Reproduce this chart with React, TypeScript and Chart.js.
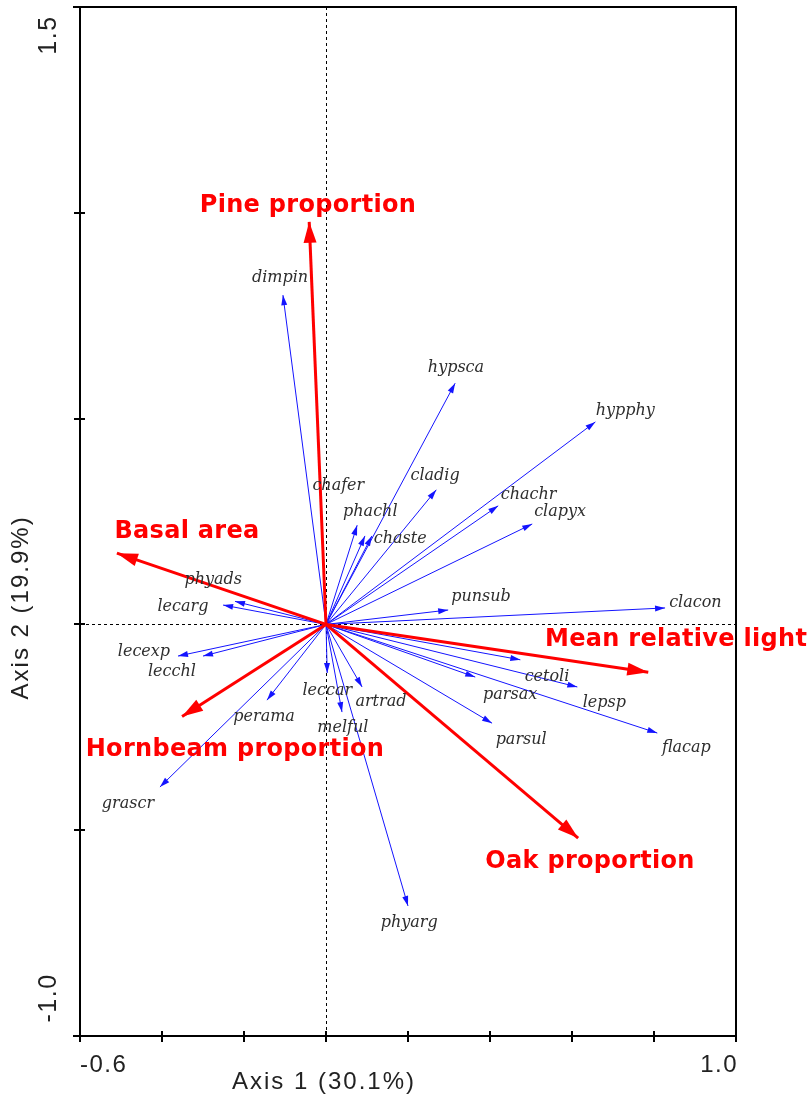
import React, { useEffect, useRef } from "react";
import { Chart, registerables } from "chart.js";

Chart.register(...registerables);

// Environmental variables (red arrows)
const envNames = ["Pine proportion", "Basal area", "Mean relative light", "Hornbeam proportion", "Oak proportion"];
const envX = [-0.041, -0.51, 0.786, -0.351, 0.615];
const envY = [0.978, 0.173, -0.116, -0.224, -0.519];
const envLabelX = [-0.044, -0.339, 0.854, -0.222, 0.644];
const envLabelY = [1.017, 0.226, -0.038, -0.305, -0.577];

// Species (blue arrows)
const speciesNames = [
  "dimpin", "hypsca", "hypphy", "cladig", "chafer", "phachl", "chachr", "clapyx", "chaste",
  "phyads", "lecarg", "punsub", "clacon", "lecexp", "lecchl", "leccar", "artrad", "perama",
  "melful", "cetoli", "parsax", "lepsp", "parsul", "flacap", "grascr", "phyarg",
];
const speciesX = [
  -0.105, 0.315, 0.657, 0.269, 0.095, 0.076, 0.42, 0.503, 0.112,
  -0.222, -0.251, 0.298, 0.827, -0.361, -0.3, 0.003, 0.088, -0.144,
  0.039, 0.474, 0.364, 0.613, 0.405, 0.808, -0.405, 0.2,
];
const speciesY = [
  0.8, 0.586, 0.492, 0.327, 0.215, 0.241, 0.288, 0.244, 0.215,
  0.056, 0.047, 0.035, 0.04, -0.077, -0.077, -0.118, -0.152, -0.184,
  -0.213, -0.086, -0.128, -0.152, -0.24, -0.264, -0.395, -0.684,
];
const speciesLabelX = [
  -0.112, 0.317, 0.730, 0.266, 0.03, 0.108, 0.494, 0.571, 0.181,
  -0.275, -0.349, 0.378, 0.901, -0.444, -0.376, 0.003, 0.134, -0.151,
  0.041, 0.539, 0.449, 0.679, 0.476, 0.879, -0.483, 0.203,
];
const speciesLabelY = [
  0.841, 0.623, 0.520, 0.360, 0.336, 0.273, 0.314, 0.273, 0.209,
  0.108, 0.042, 0.067, 0.052, -0.067, -0.116, -0.162, -0.189, -0.225,
  -0.252, -0.128, -0.171, -0.191, -0.281, -0.301, -0.435, -0.725,
];

const xTicks = [-0.6, -0.4, -0.2, 0, 0.2, 0.4, 0.6, 0.8, 1.0];
const yTicks = [-1.0, -0.5, 0, 0.5, 1.0, 1.5];
const xTickLabels = ["-0.6", "1.0"];
const yTickLabels = ["-1.0", "1.5"];
const xTitle = "Axis 1 (30.1%)";
const yTitle = "Axis 2 (19.9%)";

const RED = "#ff0000";
const BLUE = "#1414ff";

function drawHead(ctx: CanvasRenderingContext2D, x0: number, y0: number, x1: number, y1: number, len: number, w: number, color: string) {
  const a = Math.atan2(y1 - y0, x1 - x0);
  const c = Math.cos(a), s = Math.sin(a);
  ctx.fillStyle = color;
  ctx.beginPath();
  ctx.moveTo(x1, y1);
  ctx.lineTo(x1 - len * c + (w / 2) * s, y1 - len * s - (w / 2) * c);
  ctx.lineTo(x1 - len * c - (w / 2) * s, y1 - len * s + (w / 2) * c);
  ctx.closePath();
  ctx.fill();
}

const biplotPlugin = {
  id: "biplot",
  beforeDatasetsDraw(chart: any) {
    const ctx = chart.ctx as CanvasRenderingContext2D;
    const xs = chart.scales.x, ys = chart.scales.y;
    const a = chart.chartArea;
    ctx.save();
    ctx.strokeStyle = "#000";
    ctx.lineWidth = 1;
    ctx.setLineDash([3, 3]);
    const x0 = Math.round(xs.getPixelForValue(0)) + 0.5;
    const y0 = Math.round(ys.getPixelForValue(0)) + 0.5;
    ctx.beginPath();
    ctx.moveTo(x0, a.top);
    ctx.lineTo(x0, a.bottom);
    ctx.moveTo(a.left, y0);
    ctx.lineTo(a.right, y0);
    ctx.stroke();
    ctx.restore();
  },
  afterDatasetsDraw(chart: any) {
    const ctx = chart.ctx as CanvasRenderingContext2D;
    const xs = chart.scales.x, ys = chart.scales.y;
    const a = chart.chartArea;
    ctx.save();
    // arrowheads
    chart.data.datasets.forEach((ds: any, i: number) => {
      const meta = chart.getDatasetMeta(i);
      const p0 = meta.data[0], p1 = meta.data[1];
      if (!p0 || !p1) return;
      if (ds.kind === "env") drawHead(ctx, p0.x, p0.y, p1.x, p1.y, 21, 13, RED);
      else drawHead(ctx, p0.x, p0.y, p1.x, p1.y, 10, 6, BLUE);
    });
    // species labels
    ctx.fillStyle = "#2e2e2e";
    ctx.font = "italic 16px 'DejaVu Serif'";
    ctx.textAlign = "center";
    ctx.textBaseline = "middle";
    speciesNames.forEach((n, i) => {
      ctx.fillText(n, xs.getPixelForValue(speciesLabelX[i]), ys.getPixelForValue(speciesLabelY[i]));
    });
    // env labels
    ctx.fillStyle = RED;
    ctx.font = "bold 24px 'DejaVu Sans'";
    (ctx as any).letterSpacing = "0.3px";
    envNames.forEach((n, i) => {
      ctx.fillText(n, xs.getPixelForValue(envLabelX[i]), ys.getPixelForValue(envLabelY[i]));
    });
    (ctx as any).letterSpacing = "0px";

    // frame
    ctx.strokeStyle = "#000";
    ctx.lineWidth = 2;
    ctx.setLineDash([]);
    ctx.beginPath();
    ctx.moveTo(a.left - 7, a.top);
    ctx.lineTo(a.right + 1, a.top);
    ctx.moveTo(a.left - 7, a.bottom);
    ctx.lineTo(a.right + 1, a.bottom);
    ctx.moveTo(a.left, a.top);
    ctx.lineTo(a.left, a.bottom + 5);
    ctx.moveTo(a.right, a.top);
    ctx.lineTo(a.right, a.bottom + 5);
    ctx.stroke();
    // ticks
    ctx.lineWidth = 2;
    ctx.beginPath();
    xTicks.forEach((v) => {
      const px = Math.round(xs.getPixelForValue(v));
      ctx.moveTo(px, a.bottom - 5);
      ctx.lineTo(px, a.bottom + 6);
    });
    yTicks.forEach((v) => {
      const py = Math.round(ys.getPixelForValue(v));
      ctx.moveTo(a.left - 6, py);
      ctx.lineTo(a.left + 5, py);
    });
    ctx.stroke();

    // tick labels & titles
    ctx.fillStyle = "#222";
    ctx.font = "24px 'Liberation Sans'";
    (ctx as any).letterSpacing = "1.5px";
    ctx.textBaseline = "middle";
    ctx.textAlign = "left";
    ctx.fillText(xTickLabels[0], xs.getPixelForValue(xTicks[0]), a.bottom + 29);
    ctx.textAlign = "right";
    ctx.fillText(xTickLabels[1], xs.getPixelForValue(xTicks[xTicks.length - 1]) + 2, a.bottom + 29);
    // y tick labels rotated
    ctx.save();
    ctx.font = "25px 'Liberation Sans'";
    ctx.translate(49, ys.getPixelForValue(yTicks[0]) - 38);
    ctx.rotate(-Math.PI / 2);
    ctx.textAlign = "center";
    ctx.fillText(yTickLabels[0], 0, 0);
    ctx.restore();
    ctx.save();
    ctx.font = "25px 'Liberation Sans'";
    ctx.translate(49, ys.getPixelForValue(yTicks[yTicks.length - 1]) + 28);
    ctx.rotate(-Math.PI / 2);
    ctx.textAlign = "center";
    ctx.fillText(yTickLabels[1], 0, 0);
    ctx.restore();
    // titles
    (ctx as any).letterSpacing = "2px";
    ctx.textAlign = "center";
    ctx.fillText(xTitle, xs.getPixelForValue(0) - 2, a.bottom + 46);
    ctx.save();
    ctx.translate(21, ys.getPixelForValue(0) - 17);
    ctx.rotate(-Math.PI / 2);
    ctx.fillText(yTitle, 0, 0);
    ctx.restore();
    ctx.restore();
  },
};

export default function App() {
  const ref = useRef<HTMLCanvasElement | null>(null);
  useEffect(() => {
    if (!ref.current) return;
    const envSets = envNames.map((n, i) => ({
      label: n,
      kind: "env",
      data: [{ x: 0, y: 0 }, { x: envX[i], y: envY[i] }],
      showLine: true,
      borderColor: RED,
      borderWidth: 3,
      pointRadius: 0,
      clip: false,
    }));
    const spSets = speciesNames.map((n, i) => ({
      label: n,
      kind: "species",
      data: [{ x: 0, y: 0 }, { x: speciesX[i], y: speciesY[i] }],
      showLine: true,
      borderColor: BLUE,
      borderWidth: 1,
      pointRadius: 0,
      clip: false,
    }));
    const chart = new Chart(ref.current, {
      type: "scatter",
      data: { datasets: [...envSets, ...spSets] as any },
      options: {
        animation: false,
        responsive: false,
        devicePixelRatio: 1,
        layout: { padding: { left: 80, top: 7, right: 73, bottom: 66 } },
        plugins: { legend: { display: false }, tooltip: { enabled: false } },
        events: [],
        scales: {
          x: { type: "linear", min: -0.6, max: 1.0, display: false },
          y: { type: "linear", min: -1.0, max: 1.5, display: false },
        },
      },
      plugins: [biplotPlugin],
    });
    return () => chart.destroy();
  }, []);
  return (
    <div style={{ position: "absolute", left: 0, top: 0, width: 809, height: 1102, background: "#fff" }}>
      <canvas ref={ref} width={809} height={1102} style={{ display: "block" }} />
    </div>
  );
}
